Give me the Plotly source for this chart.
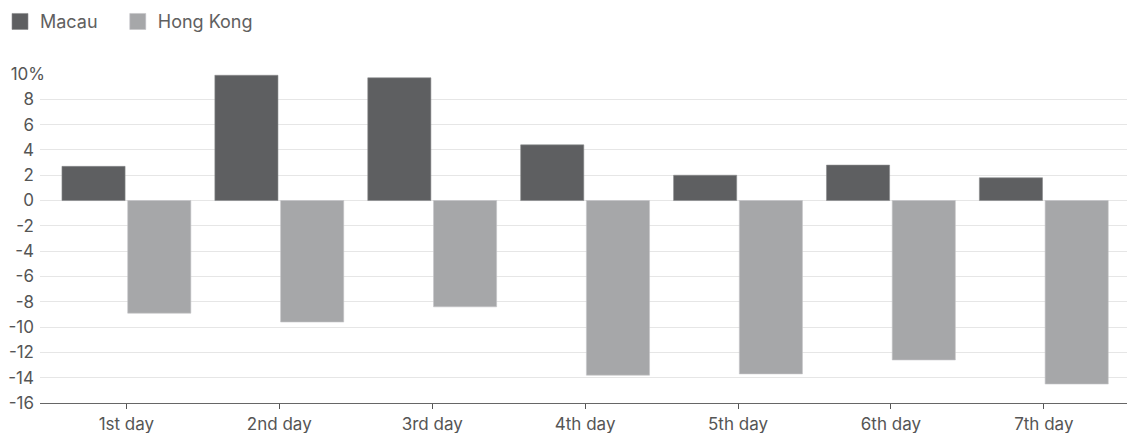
import plotly.graph_objects as go

days = ["1st day", "2nd day", "3rd day", "4th day", "5th day", "6th day", "7th day"]
macau = [2.7, 9.9, 9.7, 4.4, 2.0, 2.8, 1.8]
hong_kong = [-8.9, -9.6, -8.4, -13.8, -13.7, -12.6, -14.5]
y_ticks = [10, 8, 6, 4, 2, 0, -2, -4, -6, -8, -10, -12, -14, -16]
# the "%" sign overhangs to the right of the number column
y_labels = ["10%"] + [str(v) + "\u2007" for v in y_ticks[1:]]

FONT = "Inter, Roboto, Liberation Sans, sans-serif"
C_MACAU = "#5e5f61"
C_HK = "#a6a7a9"

fig = go.Figure()
fig.add_trace(go.Bar(name="Macau", x=days, y=macau, showlegend=False,
                     marker=dict(color=C_MACAU, line=dict(color="#8a8b8d", width=0.6))))
fig.add_trace(go.Bar(name="Hong Kong", x=days, y=hong_kong, showlegend=False,
                     marker=dict(color=C_HK, line=dict(color="#c4c5c7", width=0.6))))
# legend entries with larger square swatches (trailing no-break spaces widen the gap)
fig.add_trace(go.Scatter(name="Macau\u00a0\u00a0\u00a0", x=[None], y=[None], mode="markers",
                         marker=dict(symbol="square", size=20, color=C_MACAU,
                                     line=dict(color="#8a8b8d", width=0.6))))
fig.add_trace(go.Scatter(name="Hong Kong", x=[None], y=[None], mode="markers",
                         marker=dict(symbol="square", size=20, color=C_HK,
                                     line=dict(color="#c4c5c7", width=0.6))))

fig.update_layout(
    width=1127, height=433,
    margin=dict(l=35, r=0, t=73.5, b=29.5),
    paper_bgcolor="white", plot_bgcolor="white",
    barmode="group", bargap=0.14, bargroupgap=0.04,
    font=dict(family=FONT, size=17, color="#555555"),
    showlegend=True,
    legend=dict(orientation="h", x=-0.037, y=1.215, xanchor="left", yanchor="top",
                font=dict(size=18, color="#606060"), itemwidth=30,
                traceorder="normal", bgcolor="rgba(0,0,0,0)"),
    xaxis=dict(range=[-0.565, 6.544], showgrid=False, ticks="outside", ticklen=5,
               tickcolor="#555555", showline=True, linecolor="#666666", linewidth=1.2,
               tickfont=dict(size=17, color="#555555"), zeroline=False),
    yaxis=dict(range=[-16, 10], tickvals=y_ticks, ticktext=y_labels,
               showgrid=True, gridcolor="#e6e6e6", gridwidth=1.2,
               zeroline=True, zerolinecolor="#e6e6e6", zerolinewidth=1.2,
               tickfont=dict(size=17, color="#555555"), ticks="", ticklabelstandoff=-6),
)

fig.write_html("out.html", config={"displayModeBar": False},
               post_script="document.body.style.margin='0';document.body.style.overflow='hidden';")
